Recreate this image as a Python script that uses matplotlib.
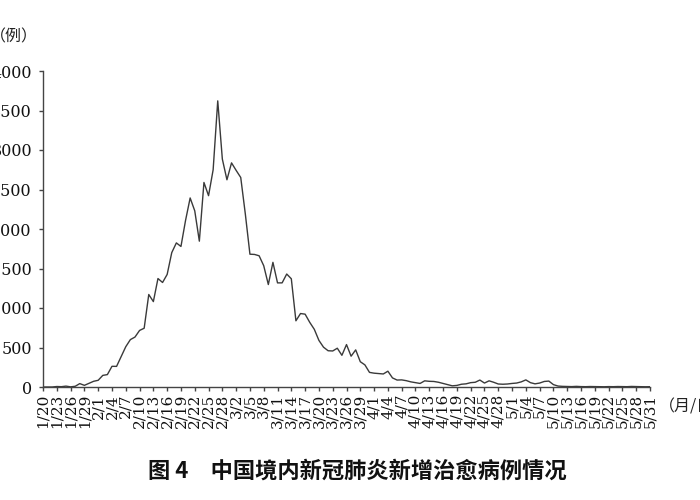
import matplotlib
matplotlib.use("Agg")
import matplotlib.pyplot as plt

# x-axis tick labels (every 3 days, 2020-01-20 .. 2020-05-31)
tick_labels = ["1/20", "1/23", "1/26", "1/29", "2/1", "2/4", "2/7", "2/10", "2/13",
               "2/16", "2/19", "2/22", "2/25", "2/28", "3/2", "3/5", "3/8", "3/11",
               "3/14", "3/17", "3/20", "3/23", "3/26", "3/29", "4/1", "4/4", "4/7",
               "4/10", "4/13", "4/16", "4/19", "4/22", "4/25", "4/28", "5/1", "5/4",
               "5/7", "5/10", "5/13", "5/16", "5/19", "5/22", "5/25", "5/28", "5/31"]

# daily new recovered cases
cured_jan = [0, 0, 0, 6, 4, 11, 2, 9, 43, 21, 47, 72]
cured_feb = [85, 147, 157, 262, 261, 387, 510, 600, 632, 716, 744, 1171, 1081, 1373,
             1323, 1425, 1701, 1824, 1779, 2109, 2393, 2230, 1846, 2589, 2422, 2750,
             3622, 2885, 2623]
cured_mar = [2837, 2742, 2652, 2189, 1681, 1678, 1661, 1535, 1297, 1578, 1318, 1318,
             1430, 1370, 838, 930, 922, 819, 730, 590, 504, 459, 456, 491, 401, 537,
             390, 470, 320, 280, 185]
cured_apr = [175, 170, 165, 200, 115, 88, 90, 80, 65, 55, 45, 78, 72, 70, 60, 45, 30,
             15, 20, 35, 40, 55, 60, 88, 50, 78, 60, 38, 35, 38]
cured_may = [45, 50, 65, 90, 55, 40, 50, 70, 75, 30, 12, 8, 6, 5, 8, 5, 4, 6, 5, 4, 3,
             5, 4, 6, 5, 4, 7, 5, 4, 3, 4]

values = cured_jan + cured_feb + cured_mar + cured_apr + cured_may
days = list(range(len(values)))

fig = plt.figure(figsize=(7, 5), dpi=100)
ax = fig.add_axes([43 / 700, 113 / 500, 607 / 700, 316 / 500])
ax.plot(days, values, color="#3a3a3a", lw=1.0)

ax.set_xlim(0, len(values) - 1)
ax.set_ylim(0, 4000)
ax.set_yticks(range(0, 4001, 500))
ax.set_xticks(range(0, len(values), 3))
ax.set_xticklabels(tick_labels, rotation=90, fontfamily="DejaVu Serif", fontsize=11)
for lab in ax.get_yticklabels():
    lab.set_fontfamily("DejaVu Serif")
    lab.set_fontsize(11.5)

for s in ["top", "right"]:
    ax.spines[s].set_visible(False)
for s in ["left", "bottom"]:
    ax.spines[s].set_color("#444444")
    ax.spines[s].set_linewidth(1.0)
ax.tick_params(axis="both", direction="out", length=3, width=1.0, color="#444444",
               labelcolor="#111111")
ax.tick_params(axis="y", pad=5)
ax.tick_params(axis="x", pad=2)

fig.text(38 / 700, 1 - 37 / 500, "（例）", ha="right", va="center",
         fontfamily=["Noto Sans CJK SC", "DejaVu Sans"], fontsize=11.5, color="#222222")
fig.text(659 / 700, 1 - 407 / 500, "（月/日）", ha="left", va="center",
         fontfamily=["Noto Sans CJK SC", "DejaVu Sans"], fontsize=11.5, color="#222222")
fig.text(357 / 700, 1 - 471 / 500, "图 4\u3000中国境内新冠肺炎新增治愈病例情况",
         ha="center", va="center", fontfamily=["Noto Sans CJK SC", "DejaVu Sans"],
         fontsize=16, fontweight="bold", color="#111111")

fig.savefig("out.png", dpi=100)
